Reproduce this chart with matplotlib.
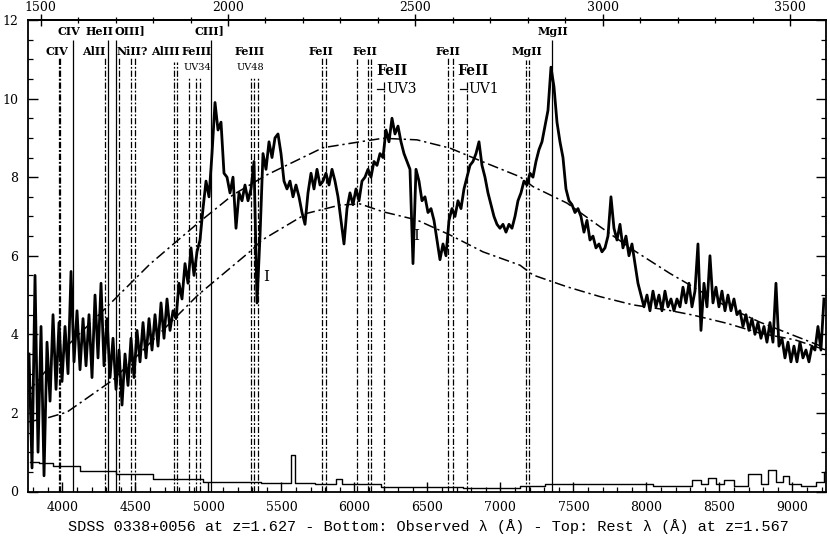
import numpy as np
import matplotlib
matplotlib.use("Agg")
import matplotlib.pyplot as plt
from matplotlib.ticker import MultipleLocator, FixedLocator

plt.rcParams['font.family'] = ['DejaVu Serif']

# ---------------- data ----------------
z_em = 1.627
z_abs = 1.567

# observed spectrum, uniform pixel grid from 3771 A to 9216 A
spec_start, spec_end = 3771, 9216
spec_flux = [
    3.5, 0.6, 5.5, 1.0, 4.2, 0.4, 3.8, 2.3, 4.5, 2.6,
    4.3, 2.8, 4.2, 3.0, 5.6, 3.3, 4.6, 3.1, 4.4, 3.2,
    4.5, 2.9, 5.0, 3.4, 5.3, 3.2, 4.4, 2.9, 3.9, 2.6,
    3.6, 2.2, 3.5, 2.7, 3.9, 2.9, 4.1, 3.3, 4.3, 3.4,
    4.4, 3.6, 4.5, 3.7, 4.8, 3.9, 4.9, 4.1, 4.6, 4.4,
    5.3, 4.9, 5.8, 5.3, 6.2, 5.5, 6.1, 6.4, 7.2, 7.9,
    7.5, 8.6, 9.9, 9.2, 9.4, 8.1, 8.0, 7.6, 8.0, 6.7,
    7.6, 7.4, 7.8, 7.4, 7.7, 8.4, 4.8, 6.5, 8.6, 8.2,
    8.9, 8.5, 9.0, 9.1, 8.6, 7.9, 7.7, 7.9, 7.5, 7.8,
    7.5, 7.1, 6.8, 7.6, 8.1, 7.7, 8.2, 7.8, 7.9, 8.1,
    7.8, 8.2, 7.9, 7.5, 6.9, 6.3, 7.2, 7.6, 7.3, 7.7,
    7.4, 7.9, 8.0, 8.2, 8.0, 8.4, 8.3, 8.6, 8.5, 9.2,
    8.9, 9.5, 9.1, 9.3, 8.9, 8.6, 8.4, 8.2, 5.8, 8.2,
    7.9, 7.4, 7.5, 7.1, 7.2, 6.9, 6.4, 5.9, 6.3, 6.0,
    6.9, 7.2, 7.0, 7.4, 7.2, 7.7, 8.0, 8.3, 8.4, 8.6,
    8.9, 8.3, 8.0, 7.6, 7.3, 7.0, 6.8, 6.7, 6.8, 6.6,
    6.8, 6.7, 7.0, 7.4, 7.6, 7.9, 7.8, 8.1, 8.0, 8.4,
    8.7, 8.9, 9.3, 9.7, 10.8, 10.3, 9.4, 8.9, 8.5, 7.7,
    7.4, 7.3, 7.1, 7.2, 7.0, 6.6, 6.9, 6.4, 6.5, 6.2,
    6.3, 6.1, 6.2, 6.5, 7.5, 6.7, 6.4, 6.8, 6.2, 6.5,
    6.0, 6.3, 5.8, 5.3, 5.0, 4.7, 5.0, 4.6, 5.1, 4.7,
    5.0, 4.6, 5.1, 4.7, 4.9, 4.6, 4.9, 4.7, 5.2, 4.8,
    5.3, 4.7, 5.1, 6.3, 4.1, 5.3, 4.7, 6.0, 4.8, 5.2,
    4.7, 5.1, 4.6, 5.0, 4.6, 4.9, 4.5, 4.6, 4.2, 4.5,
    4.1, 4.4, 4.0, 4.3, 3.9, 4.2, 3.8, 4.3, 3.8, 5.3,
    3.7, 3.9, 3.4, 3.8, 3.3, 3.7, 3.3, 3.8, 3.4, 3.6,
    3.3, 3.7, 3.6, 4.2, 3.6, 4.9,
]

# error spectrum
noise_wave = [3778, 3894, 3983, 4257, 4483, 4757, 5168, 5558, 5579, 5600,
              5853, 5901, 5935, 6428, 7065, 7202, 7408, 7613, 7819, 8277,
              8346, 8401, 8449, 8504, 8552, 8641, 8757, 8812, 8860, 8914,
              8955, 9003, 9120, 9209, 9230]
noise_flux = [0.75, 0.73, 0.65, 0.52, 0.45, 0.33, 0.25, 0.22, 0.93, 0.22,
              0.20, 0.32, 0.20, 0.12, 0.10, 0.13, 0.18, 0.20, 0.18, 0.15,
              0.30, 0.20, 0.35, 0.20, 0.28, 0.15, 0.45, 0.20, 0.55, 0.25,
              0.40, 0.20, 0.15, 0.25, 0.50]

# two model continua (dash-dot curves)
upper_wave = [3764, 4017, 4305, 4600, 4928, 5168, 5401, 5784, 6038, 6195,
              6428, 6654, 6880, 7134, 7223, 7456, 7682, 7908, 8161, 8319,
              8552, 8777, 9017, 9230]
upper_flux = [2.53, 3.65, 4.70, 5.79, 6.83, 7.55, 8.06, 8.75, 8.90, 8.99,
              8.95, 8.74, 8.39, 8.01, 7.76, 7.34, 6.74, 6.15, 5.55, 5.21,
              4.70, 4.31, 3.96, 3.65]
lower_wave = [3764, 3894, 4031, 4346, 4600, 4928, 5298, 5367, 5675, 5901,
              6038, 6195, 6428, 6654, 6880, 7134, 7223, 7456, 7682, 7908,
              8141, 8319, 8552, 8777, 9017, 9230]
lower_flux = [1.77, 1.87, 2.02, 2.84, 3.78, 5.00, 6.15, 6.40, 7.08, 7.29,
              7.32, 7.12, 6.91, 6.53, 6.10, 5.76, 5.51, 5.21, 4.96, 4.75,
              4.62, 4.49, 4.28, 4.03, 3.86, 3.60]

# emission lines at z_em (solid)
em_names = ["CIV", "HeII", "OIII]", "CIII]", "MgII"]
em_rest = [1549.06, 1640.42, 1663.48, 1908.73, 2798.75]

# absorption lines at z_abs (dash-dot)
abs_names = ["CIV", "AlII", "NiII?", "AlIII", "FeIII", "FeIII",
             "FeII", "FeII", "FeII", "MgII"]
abs_sub = ["", "", "", "", "UV34", "UV48", "", "", "", ""]
abs_rest = [[1548.20, 1550.77], [1670.79], [1709.60, 1741.55, 1751.91],
            [1854.72, 1862.79], [1895.46, 1914.06, 1926.30],
            [2061.55, 2068.24, 2078.99], [2249.88, 2260.78],
            [2344.21, 2374.46, 2382.77], [2586.65, 2600.17],
            [2796.35, 2803.53]]

# FeII multiplet markers (rest wavelength at z_em)
mult_names = ["UV3", "UV1"]
mult_rest = [2360.1, 2577.1]

# top-axis rest-frame ticks
rest_major = [1500, 2000, 2500, 3000, 3500]
rest_minor = list(range(1500, 3600, 100))

# ---------------- layout ----------------
em_label_x = [4045, 4255, 4462, 5010, 7360]
em_label_y = 11.72
em_top = 11.49
abs_label_x = [3963, 4216, 4476, 4702, 4921, 5284, 5771, 6072, 6641, 7182]
abs_label_y = 11.19
abs_sub_y = 10.78
abs_top = [11.03, 11.03, 11.03, 10.93, 10.52, 10.52, 11.03, 11.0, 11.03, 10.98]
mult_label_x = [6257, 6812]
mult_sub_x = [6326, 6887]
mult_label_y = 10.70
mult_sub_y = 10.24
mult_top = 10.45
i_marks = [(5394, 5.46), (6426, 6.49)]

dash_line = (0, (5, 1.5, 1.5, 1.5))

fig = plt.figure(figsize=(8.30, 5.39), dpi=100)
ax = fig.add_axes([28 / 830, 1 - 491.5 / 539, (826 - 28) / 830, (491.5 - 20) / 539])
ax.set_xlim(3764, 9230)
ax.set_ylim(0, 12)

wave = np.linspace(spec_start, spec_end, len(spec_flux))
ax.plot(wave, spec_flux, color='black', lw=2.0, zorder=3)
ax.plot(noise_wave, noise_flux, color='black', lw=1.0, drawstyle='steps-mid', zorder=3)
ax.plot(upper_wave, upper_flux, color='black', lw=1.1, dashes=(7, 2.5, 1.5, 2.5), zorder=2)
ax.plot(lower_wave, lower_flux, color='black', lw=1.1, dashes=(7, 2.5, 1.5, 2.5), zorder=2)

# emission lines
for name, r, lx in zip(em_names, em_rest, em_label_x):
    lam = r * (1 + z_em)
    ax.vlines(lam, 0, em_top, colors='black', lw=0.9, zorder=1)
    ax.text(lx, em_label_y, name, ha='center', va='center', fontsize=8,
            fontweight='bold')

# absorption lines
for name, sub, rests, lx, top in zip(abs_names, abs_sub, abs_rest, abs_label_x, abs_top):
    for r in rests:
        ax.vlines(r * (1 + z_abs), 0, top, colors='black', lw=0.9,
                  linestyles=[dash_line], zorder=1)
    ax.text(lx, abs_label_y, name, ha='center', va='center', fontsize=8,
            fontweight='bold')
    if sub:
        ax.text(lx, abs_sub_y, sub, ha='center', va='center', fontsize=7)

# FeII multiplet markers
for name, r, lx, sx in zip(mult_names, mult_rest, mult_label_x, mult_sub_x):
    lam = r * (1 + z_em)
    ax.vlines(lam, 0, mult_top, colors='black', lw=0.9, linestyles=[dash_line], zorder=1)
    ax.plot([lam - 45, lam], [mult_sub_y, mult_sub_y], color='black', lw=0.9)
    ax.text(lx, mult_label_y, "FeII", ha='center', va='center', fontsize=10,
            fontweight='bold')
    ax.text(sx, mult_sub_y, name, ha='center', va='center', fontsize=10)

for (mx, my) in i_marks:
    ax.text(mx, my, "I", ha='center', va='center', fontsize=11)

# axes / ticks
for sp in ax.spines.values():
    sp.set_linewidth(1.3)
ax.xaxis.set_major_locator(MultipleLocator(500))
ax.xaxis.set_minor_locator(MultipleLocator(100))
ax.yaxis.set_major_locator(MultipleLocator(2))
ax.yaxis.set_minor_locator(MultipleLocator(0.5))
ax.tick_params(axis='x', which='both', direction='in', top=False, bottom=True,
               labelsize=9, pad=7)
ax.tick_params(axis='x', which='major', length=7, width=1.0)
ax.tick_params(axis='x', which='minor', length=3.5, width=0.9)
ax.tick_params(axis='y', which='both', direction='in', left=True, right=True,
               labelsize=9, pad=7)
ax.tick_params(axis='y', which='major', length=7, width=1.0)
ax.tick_params(axis='y', which='minor', length=3.5, width=0.9)

secax = ax.secondary_xaxis('top', functions=(lambda x: x / (1 + z_abs),
                                             lambda x: x * (1 + z_abs)))
secax.xaxis.set_major_locator(FixedLocator(rest_major))
secax.xaxis.set_minor_locator(FixedLocator(rest_minor))
secax.tick_params(which='both', direction='inout', labelsize=9, pad=0.5)
secax.tick_params(which='major', length=8, width=1.0)
secax.tick_params(which='minor', length=5, width=0.9)
secax.spines['top'].set_linewidth(1.3)

fig.text(428 / 830, 1 - 527 / 539,
         "SDSS 0338+0056 at z=1.627 - Bottom: Observed \u03bb (\u00c5) - Top: Rest \u03bb (\u00c5) at z=1.567",
         ha='center', va='center', fontsize=11, family=['Liberation Mono', 'DejaVu Sans Mono'])

fig.savefig("out.png", dpi=100)
